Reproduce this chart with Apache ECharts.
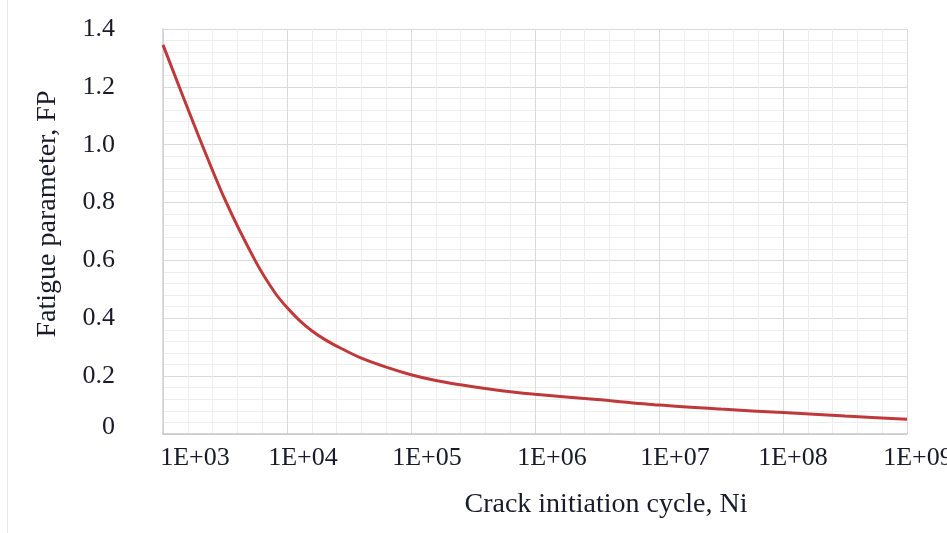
<!DOCTYPE html>
<html>
<head>
<meta charset="utf-8">
<script src="https://cdn.jsdelivr.net/npm/echarts@6/dist/echarts.min.js"></script>
<style>
html, body { margin: 0; padding: 0; background: #fff; }
#main { width: 947px; height: 533px; }
</style>
</head>
<body>
<div id="main"></div>
<script>
var myChart = echarts.init(document.getElementById('main'))

// crack initiation cycles as log10(Ni)
var cycleExp = [3.0, 3.25, 3.5, 3.75, 3.9, 4.0, 4.1, 4.2, 4.3, 4.4, 4.6, 4.8, 5.0, 5.2, 5.4, 5.6, 5.8, 6.0, 6.5, 7.0, 7.5, 8.0, 8.5, 9.0]
// fatigue parameter FP
var fpValues = [1.345, 1.07, 0.81, 0.594, 0.49, 0.437, 0.393, 0.357, 0.328, 0.304, 0.262, 0.231, 0.205, 0.185, 0.170, 0.157, 0.146, 0.137, 0.119, 0.100, 0.086, 0.074, 0.062, 0.051]
var xTickLabels = ['1E+03', '1E+04', '1E+05', '1E+06', '1E+07', '1E+08', '1E+09']
var yTickLabels = ['0', '0.2', '0.4', '0.6', '0.8', '1.0', '1.2', '1.4']

var points = []
for (i = 0; i < cycleExp.length; i++) {
    points.push([cycleExp[i], fpValues[i]])
}

var fontFam = '"Liberation Serif", "DejaVu Serif", serif'
// label shift keys (the PDF labels sit right of their gridlines)
var xShiftKey = ['s64', 's32', 's32', 's34', 's32', 's20', 's22']

option = {
    animation: false,
    backgroundColor: '#fff',
    grid: {
        left: 163,
        right: 40,
        top: 29,
        bottom: 99,
        outerBoundsMode: 'none'
    },
    graphic: [
        {
            type: 'line',
            shape: { x1: 7.5, y1: 0, x2: 7.5, y2: 533 },
            style: { stroke: '#e8e8e8', lineWidth: 1 }
        }
    ],
    xAxis: {
        type: 'value',
        min: 3,
        max: 9,
        interval: 1,
        name: 'Crack initiation cycle, Ni',
        nameLocation: 'middle',
        nameGap: 57,
        nameTextStyle: {
            fontFamily: fontFam,
            fontSize: 28,
            color: '#1a1a2a',
            padding: [0, 0, 0, 142]
        },
        axisLine: { show: true, lineStyle: { color: '#c8c8c8', width: 1.5 } },
        axisTick: { show: false },
        axisLabel: {
            margin: 11,
            fontFamily: fontFam,
            fontSize: 26,
            color: '#1a1a2a',
            formatter: function (v) {
                var k = Math.round(v) - 3
                return '{' + xShiftKey[k] + '|' + xTickLabels[k] + '}'
            },
            rich: {
                s64: { fontFamily: fontFam, fontSize: 26, color: '#1a1a2a', padding: [0, 0, 0, 64] },
                s32: { fontFamily: fontFam, fontSize: 26, color: '#1a1a2a', padding: [0, 0, 0, 32] },
                s34: { fontFamily: fontFam, fontSize: 26, color: '#1a1a2a', padding: [0, 0, 0, 34] },
                s20: { fontFamily: fontFam, fontSize: 26, color: '#1a1a2a', padding: [0, 0, 0, 20] },
                s22: { fontFamily: fontFam, fontSize: 26, color: '#1a1a2a', padding: [0, 0, 0, 22] }
            }
        },
        splitLine: { show: true, lineStyle: { color: '#dadada', width: 1 } },
        minorTick: { show: false, splitNumber: 5 },
        minorSplitLine: { show: true, lineStyle: { color: '#eeeeee', width: 1 } }
    },
    yAxis: {
        type: 'value',
        min: 0,
        max: 1.4,
        interval: 0.2,
        name: 'Fatigue parameter, FP',
        nameLocation: 'middle',
        nameRotate: 90,
        nameGap: 101,
        nameTextStyle: {
            fontFamily: fontFam,
            fontSize: 28,
            color: '#1a1a2a',
            padding: [0, 0, 0, 35]
        },
        axisLine: { show: true, lineStyle: { color: '#d0d0d0', width: 1.5 } },
        axisTick: { show: false },
        axisLabel: {
            margin: 48,
            fontFamily: fontFam,
            fontSize: 26,
            color: '#1a1a2a',
            formatter: function (v) {
                var k = Math.round(v / 0.2)
                if (k === 0) {
                    return '{zero|' + yTickLabels[k] + '}'
                }
                return yTickLabels[k]
            },
            rich: {
                zero: { fontFamily: fontFam, fontSize: 26, color: '#1a1a2a', padding: [0, 0, 14, 0] }
            }
        },
        splitLine: { show: true, lineStyle: { color: '#dadada', width: 1 } },
        minorTick: { show: false, splitNumber: 5 },
        minorSplitLine: { show: true, lineStyle: { color: '#eeeeee', width: 1 } }
    },
    series: [
        {
            name: 'FP',
            type: 'line',
            smooth: 0.3,
            showSymbol: false,
            lineStyle: { color: '#c0393a', width: 3 },
            itemStyle: { color: '#c0393a' },
            data: points
        }
    ]
}
myChart.setOption(option)
</script>
</body>
</html>
